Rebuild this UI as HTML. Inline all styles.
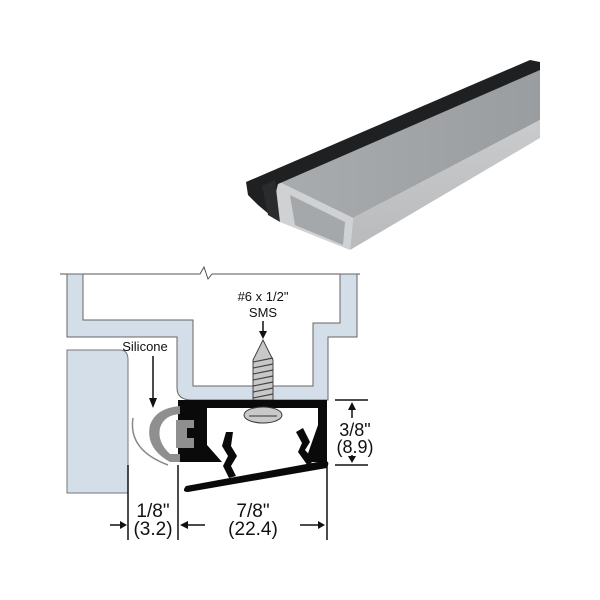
<!DOCTYPE html>
<html><head><style>
html,body{margin:0;padding:0;background:#fff;}
svg{display:block}
text{font-family:"Liberation Sans",Arial,sans-serif;fill:#111}
</style></head><body>
<svg width="600" height="600" viewBox="0 0 600 600" xmlns="http://www.w3.org/2000/svg">
<defs>
<linearGradient id="tg" x1="0" y1="0" x2="1" y2="0">
<stop offset="0" stop-color="#a9acaf"/><stop offset="1" stop-color="#9a9da0"/></linearGradient>
<linearGradient id="sg" x1="0" y1="0" x2="0" y2="1">
<stop offset="0" stop-color="#c9cbcd"/><stop offset="1" stop-color="#b8babc"/></linearGradient>
</defs>
<!-- product photo -->
<polygon points="275,180 540,62 540,120 353,218" fill="url(#tg)"/>
<polygon points="353,218 540,120 540,138 350,250" fill="url(#sg)"/>
<polygon points="275,180 353,218 350,250 280,222" fill="#cfd1d3"/>
<polygon points="290,195 345,222 343,245 295,225" fill="#a5a8ab"/>
<polygon points="246,182 530,60 540,62 540,70 278,184 270,215 258,205 248,195" fill="#1f2022"/>
<polygon points="262,186 275,180 280,222 268,215" fill="#2a2b2d"/>
<!-- top line -->
<polyline points="60,274 200,274 204,267 208,279 212,274 360,274" fill="none" stroke="#555" stroke-width="1"/>
<!-- frame -->
<path d="M67,274 L67,337 L177,337 L177,388 Q177,400 192,400 L328,400 L328,337 L357,337 L357,274 L340,274 L340,323 L313,323 L313,386 L193,386 L193,320 L83,320 L83,274 Z" fill="#d4dee8" stroke="#666" stroke-width="1"/>
<!-- door -->
<path d="M67,350 L120,350 Q128,350 128,360 L128,493 L67,493 Z" fill="#d4dee8" stroke="#777" stroke-width="1"/>
<!-- screw -->
<polygon points="263,340 253,360 253,400 273,400 273,360" fill="#c8c8c8" stroke="#444" stroke-width="1"/>
<g stroke="#444" stroke-width="1.2">
<line x1="253" y1="362" x2="273" y2="358"/><line x1="253" y1="368" x2="273" y2="364"/><line x1="253" y1="374" x2="273" y2="370"/><line x1="253" y1="380" x2="273" y2="376"/><line x1="253" y1="386" x2="273" y2="382"/><line x1="253" y1="392" x2="273" y2="388"/><line x1="253" y1="398" x2="273" y2="394"/></g>
<!-- black profile -->
<rect x="178" y="400" width="149" height="62" fill="#0a0a0a"/>
<polygon points="207,408 318,408 318,425 305,462 222,462 207,445" fill="#fff"/>
<ellipse cx="263" cy="415" rx="19" ry="8" fill="#c9c9c9" stroke="#333"/>
<line x1="249" y1="416" x2="277" y2="416" stroke="#333"/>
<!-- clips -->
<path d="M226,432 L233,432 L231,446 L237,456 L231,466 L236,476 L229,478 L223,466 L228,456 L222,446 Z" fill="#0a0a0a"/>
<path d="M296,432 L303,428 L310,442 L305,450 L314,460 L308,466 L298,452 L302,443 Z" fill="#0a0a0a"/>
<path d="M186,486 Q181,492 188,492 L327,468 Q331,460 323,461 Z" fill="#0a0a0a"/>
<!-- silicone -->
<path d="M180,406 Q156,408 150,425 Q145,448 170,462 L180,462 L180,454 L170,454 Q157,442 160,428 Q164,415 180,414 Z" fill="#8f8f8f"/>
<path d="M176,420 L194,420 L194,428 L187,428 L187,438 L194,438 L194,448 L176,448 Z" fill="#8f8f8f"/>
<path d="M133,418 Q128,450 168,465" fill="none" stroke="#888" stroke-width="1.5"/>
<!-- labels -->
<text x="145" y="351" font-size="13" text-anchor="middle">Silicone</text>
<line x1="153" y1="356" x2="153" y2="400" stroke="#111" stroke-width="1.5"/>
<polygon points="149,398 157,398 153,408" fill="#111"/>
<text x="263" y="301" font-size="13" text-anchor="middle">#6 x 1/2"</text>
<text x="263" y="317" font-size="13" text-anchor="middle">SMS</text>
<line x1="263" y1="321" x2="263" y2="332" stroke="#111" stroke-width="1.5"/>
<polygon points="259,331 267,331 263,339" fill="#111"/>
<!-- right dim -->
<g stroke="#111" stroke-width="1.5">
<line x1="335" y1="400" x2="368" y2="400"/><line x1="335" y1="465" x2="368" y2="465"/>
<line x1="352" y1="408" x2="352" y2="418"/><line x1="352" y1="455" x2="352" y2="458"/>
<line x1="128" y1="465" x2="128" y2="540"/><line x1="178" y1="465" x2="178" y2="540"/><line x1="327" y1="465" x2="327" y2="540"/>
<line x1="110" y1="525" x2="122" y2="525"/><line x1="188" y1="525" x2="205" y2="525"/><line x1="300" y1="525" x2="318" y2="525"/>
</g>
<polygon points="348,410 356,410 352,402" fill="#111"/>
<polygon points="348,456 356,456 352,463" fill="#111"/>
<polygon points="120,521 120,529 127,525" fill="#111"/>
<polygon points="188,521 188,529 180,525" fill="#111"/>
<polygon points="318,521 318,529 325,525" fill="#111"/>
<text x="355" y="436" font-size="18" text-anchor="middle">3/8"</text>
<text x="355" y="453" font-size="18" text-anchor="middle">(8.9)</text>
<text x="153" y="517" font-size="19" text-anchor="middle">1/8"</text>
<text x="153" y="535" font-size="19" text-anchor="middle">(3.2)</text>
<text x="253" y="517" font-size="19" text-anchor="middle">7/8"</text>
<text x="253" y="535" font-size="19" text-anchor="middle">(22.4)</text>
</svg>
</body></html>
